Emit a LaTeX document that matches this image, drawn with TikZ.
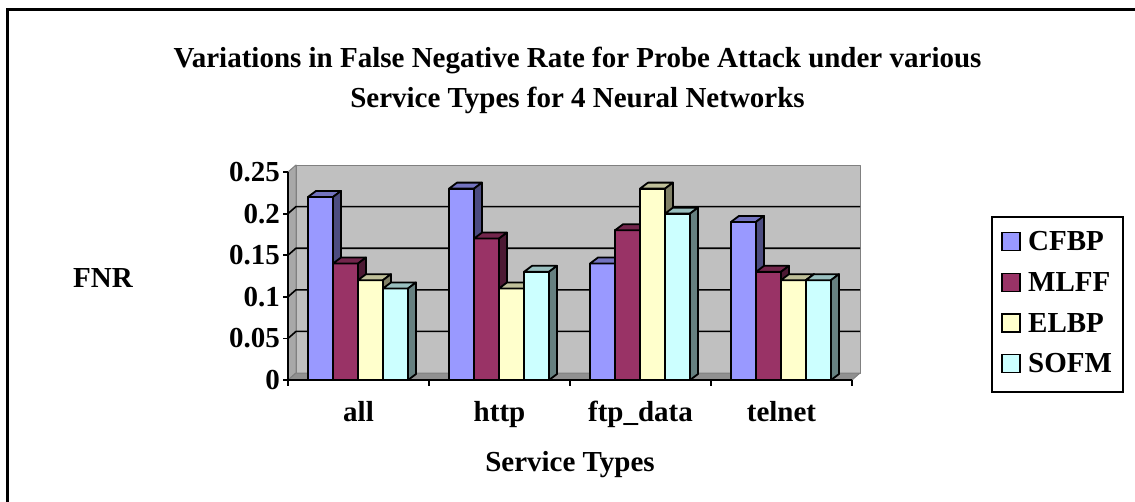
\documentclass[tikz,border=0pt]{standalone}
\usepackage{fontspec}
\setmainfont{Liberation Serif}
\definecolor{cfbp}{HTML}{9999FF}
\definecolor{mlff}{HTML}{993366}
\definecolor{elbp}{HTML}{FFFFCC}
\definecolor{sofm}{HTML}{CCFFFF}
\definecolor{wallgray}{HTML}{C0C0C0}
\definecolor{sidegray}{HTML}{A8A8A8}
\definecolor{floorgray}{HTML}{909090}
\definecolor{edgegray}{HTML}{808080}
\begin{document}
\begin{tikzpicture}[x=1pt,y=-1pt,
  lab/.style={font=\fontsize{29}{32}\selectfont\bfseries, inner sep=0pt},
  barface/.style={draw=black, line width=1.8pt, line join=round},
  wallface/.style={draw=edgegray, line width=1pt, line join=round},
  axisline/.style={draw=black, line width=1.8pt},
  gridline/.style={draw=black, line width=1.6pt},
  legbox/.style={draw=black, line width=2pt},
  swatch/.style={draw=black, line width=1.8pt}]
\useasboundingbox (0,0) rectangle (1135,501);
\fill[white] (0,0) rectangle (1135,501);
% outer frame
\draw[line width=3pt] (7.5,520) -- (7.5,9.5) -- (1150,9.5);
% title
\node[lab, anchor=base] (title1) at (577.5,67) {Variations in False Negative Rate for Probe Attack under various};
\node[lab, anchor=base] (title2) at (577.5,107) {Service Types for 4 Neural Networks};
% walls and floor
\filldraw[wallface, fill=sidegray] (288,380) -- (288,172) -- (296,165) -- (296,373) -- cycle;
\filldraw[wallface, fill=wallgray] (296,165) rectangle (860,373);
\filldraw[wallface, fill=floorgray] (288,380) -- (296,373) -- (860,373) -- (852,380) -- cycle;
% gridlines
\foreach \k in {1,2,3,4}{
  \pgfmathsetmacro\yy{380-41.6*\k}
  \draw[gridline] (288,\yy) -- (296,\yy-7) -- (860,\yy-7);
}
% bars
\foreach \c/\i/\v/\col in {
  0/0/0.22/cfbp, 0/1/0.14/mlff, 0/2/0.12/elbp, 0/3/0.11/sofm,
  1/0/0.23/cfbp, 1/1/0.17/mlff, 1/2/0.11/elbp, 1/3/0.13/sofm,
  2/0/0.14/cfbp, 2/1/0.18/mlff, 2/2/0.23/elbp, 2/3/0.20/sofm,
  3/0/0.19/cfbp, 3/1/0.13/mlff, 3/2/0.12/elbp, 3/3/0.12/sofm}{
  \pgfmathsetmacro\xa{308+141*\c+25*\i}
  \pgfmathsetmacro\yt{380-832*\v}
  \filldraw[barface, fill=\col] (\xa,\yt) rectangle (\xa+25,380);
  \filldraw[barface, fill=\col!75!black] (\xa,\yt) -- (\xa+8,\yt-6) -- (\xa+33,\yt-6) -- (\xa+25,\yt) -- cycle;
  \filldraw[barface, fill=\col!50!black] (\xa+25,\yt) -- (\xa+33,\yt-6) -- (\xa+33,374) -- (\xa+25,380) -- cycle;
}
% axes
\draw[axisline] (288,172) -- (288,380) -- (852,380);
\foreach \k in {0,1,2,3,4,5}{
  \pgfmathsetmacro\yy{380-41.6*\k}
  \draw[axisline] (283,\yy) -- (288,\yy);
}
\foreach \k in {0,1,2,3,4}{
  \draw[axisline] (288+141*\k,380) -- (288+141*\k,386);
}
% y labels
\node[lab, anchor=base east] (y0) at (280,389.5) {0};
\node[lab, anchor=base east] (y1) at (280,347.9) {0.05};
\node[lab, anchor=base east] (y2) at (280,306.3) {0.1};
\node[lab, anchor=base east] (y3) at (280,264.7) {0.15};
\node[lab, anchor=base east] (y4) at (280,223.1) {0.2};
\node[lab, anchor=base east] (y5) at (280,181.5) {0.25};
% category labels
\node[lab, anchor=base] (call) at (358.5,421) {all};
\node[lab, anchor=base] (chttp) at (499.5,421) {http};
\node[lab, anchor=base] (cftp) at (640.5,421) {ftp\_data};
\node[lab, anchor=base] (ctel) at (781.5,421) {telnet};
% axis titles
\node[lab, anchor=base] (xtitle) at (570,471) {Service Types};
\node[lab, anchor=base] (ytitle) at (103,287) {FNR};
% legend
\draw[legbox] (992,217) rectangle (1123,392);
\foreach \n/\yc/\col/\txt in {0/241.5/cfbp/CFBP, 1/282.5/mlff/MLFF, 2/323/elbp/ELBP, 3/363.5/sofm/SOFM}{
  \filldraw[swatch, fill=\col] (1002,\yc-9) rectangle (1020,\yc+9);
  \node[lab, anchor=base west] (leg\n) at (1028,\yc+9.4) {\txt};
}
\end{tikzpicture}
\end{document}
